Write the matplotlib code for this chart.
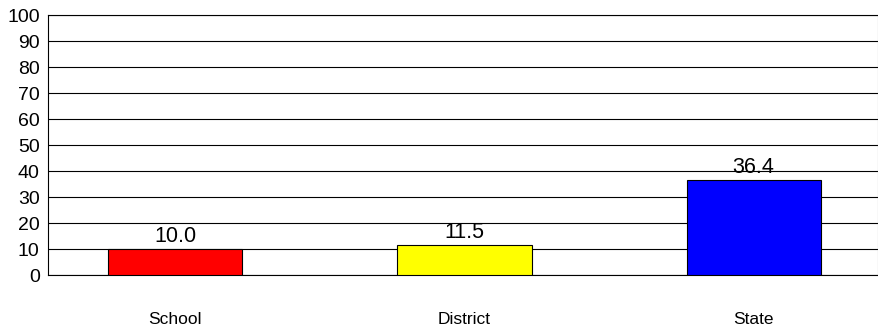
from matplotlib import pyplot as plt

categories = ["School", "District", "State"]
values = [10.0, 11.5, 36.4]
colors = ["#ff0000", "#ffff00", "#0000ff"]
yticks = list(range(0, 101, 10))

plt.rcParams["font.family"] = ["Liberation Sans", "DejaVu Sans"]

fig = plt.figure(figsize=(8.79, 3.26), dpi=100)
ax = fig.add_axes([48 / 879, 1 - 275 / 326, 830 / 879, 260 / 326])

x = range(len(categories))
bars = ax.bar(x, values, width=0.464, color=colors, edgecolor="black", linewidth=0.8, zorder=3)

for b, v in zip(bars, values):
    ax.annotate(f"{v:.1f}", (b.get_x() + b.get_width() / 2, v), xytext=(0, 1.5),
                textcoords="offset points", ha="center", va="bottom", fontsize=15.5, zorder=4)

ax.set_xlim(-0.44, 2.43)
ax.set_ylim(0, 100)
ax.set_yticks(yticks)
ax.set_xticks(list(x))
ax.set_xticklabels(categories, fontsize=12.5)
ax.tick_params(axis="y", length=0, pad=6, labelsize=14)
ax.tick_params(axis="x", length=0, pad=27)
ax.yaxis.grid(True, color="black", linewidth=0.8, zorder=0)
ax.set_axisbelow(True)

for s in ["left", "bottom", "top"]:
    ax.spines[s].set_color("black")
    ax.spines[s].set_linewidth(0.8)
ax.spines["right"].set_color("#808080")

fig.savefig("out.png", dpi=100)
